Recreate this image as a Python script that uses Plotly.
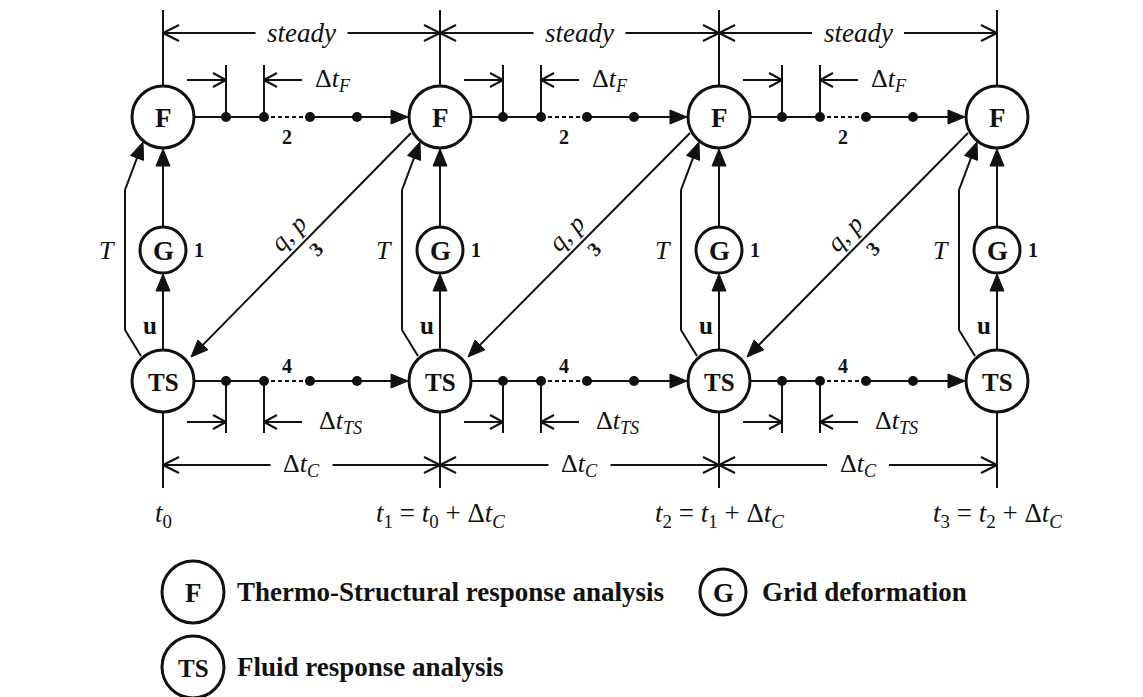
import math
import plotly.graph_objects as go

# ---------------- content (text of the diagram) ----------------
node_labels = {"F": "<b>F</b>", "G": "<b>G</b>", "TS": "<b>TS</b>"}
interval_label = "<i>steady</i>"
dt_F_label = "Δ<i>t</i><sub><i>F</i></sub>"
dt_TS_label = "Δ<i>t</i><sub><i>TS</i></sub>"
dt_C_label = "Δ<i>t</i><sub><i>C</i></sub>"
time_labels = [
    "<i>t</i><sub>0</sub>",
    "<i>t</i><sub>1</sub> = <i>t</i><sub>0</sub> + Δ<i>t</i><sub><i>C</i></sub>",
    "<i>t</i><sub>2</sub> = <i>t</i><sub>1</sub> + Δ<i>t</i><sub><i>C</i></sub>",
    "<i>t</i><sub>3</sub> = <i>t</i><sub>2</sub> + Δ<i>t</i><sub><i>C</i></sub>",
]
temp_label = "<i>T</i>"
disp_label = "<b>u</b>"
load_label = "<i>q</i>, <i>p</i>"
step_numbers = ["1", "2", "3", "4"]
legend_symbols = ["F", "G", "TS"]
legend_texts = ["Thermo-Structural response analysis", "Grid deformation",
                "Fluid response analysis"]

# ---------------- layout geometry (pixels) ----------------
W, H = 1143, 697
OFF = 8  # page body margin
COLS = [163, 440, 719, 997]
Y_F, Y_G, Y_TS = 117, 250, 381
R_BIG, R_G = 31, 23
Y_TOP, Y_STEADY = 10, 33
Y_DTF, Y_DTF_TICK = 80, 65
Y_DTTS, Y_DTTS_TICK = 422, 433
Y_DTC, Y_BOT, Y_TLAB = 465, 488, 515
DOTS = [63, 101, 147, 194]
FONT = "Liberation Serif, Times New Roman, serif"
BLACK = "#111111"

shapes = []
annotations = []


def line(x0, y0, x1, y1, w=2, dash=None):
    d = dict(type="line", x0=x0, y0=y0, x1=x1, y1=y1, xref="x", yref="y",
             line=dict(color=BLACK, width=w), layer="above")
    if dash:
        d["line"]["dash"] = dash
    shapes.append(d)


def filled_head(tx, ty, fx, fy, L=17, hw=7):
    dx, dy = tx - fx, ty - fy
    n = math.hypot(dx, dy)
    ux, uy = dx / n, dy / n
    bx, by = tx - ux * L, ty - uy * L
    px, py = -uy, ux
    path = (f"M {tx},{ty} L {bx + px * hw},{by + py * hw} "
            f"L {bx - px * hw},{by - py * hw} Z")
    shapes.append(dict(type="path", path=path, xref="x", yref="y",
                       fillcolor=BLACK, line=dict(color=BLACK, width=1),
                       layer="above"))
    return bx, by


def arrow(fx, fy, tx, ty, w=2):
    bx, by = filled_head(tx, ty, fx, fy)
    line(fx, fy, bx + (tx - fx) * 0.02, by + (ty - fy) * 0.02, w)


def open_head(tx, ty, fx, fy, L=16, hw=8, w=2):
    dx, dy = tx - fx, ty - fy
    n = math.hypot(dx, dy)
    ux, uy = dx / n, dy / n
    bx, by = tx - ux * L, ty - uy * L
    px, py = -uy, ux
    line(tx, ty, bx + px * hw, by + py * hw, w)
    line(tx, ty, bx - px * hw, by - py * hw, w)


def text(x, y, s, size=22, xanchor="center", angle=0):
    annotations.append(dict(x=x, y=y, xref="x", yref="y", text=s,
                            showarrow=False, xanchor=xanchor, yanchor="middle",
                            textangle=angle,
                            font=dict(family=FONT, size=size, color=BLACK)))


def circle(cx, cy, r, w=3):
    shapes.append(dict(type="circle", x0=cx - r, x1=cx + r, y0=cy - r, y1=cy + r,
                       xref="x", yref="y", fillcolor="white",
                       line=dict(color=BLACK, width=w), layer="above"))


def dot(cx, cy, r=5):
    shapes.append(dict(type="circle", x0=cx - r, x1=cx + r, y0=cy - r, y1=cy + r,
                       xref="x", yref="y", fillcolor=BLACK,
                       line=dict(color=BLACK, width=0), layer="above"))


def dimension(a, b, y, gap, label, size):
    mid = (a + b) / 2
    line(a, y, mid - gap, y, 2)
    line(mid + gap, y, b, y, 2)
    open_head(a, y, a + 20, y)
    open_head(b, y, b - 20, y)
    text(mid, y, label, size)


# column verticals
for c in COLS:
    line(c, Y_TOP, c, Y_F - R_BIG, 2)
    line(c, Y_TS + R_BIG, c, Y_BOT, 2)

# intervals between columns
for i in range(len(COLS) - 1):
    a, b = COLS[i], COLS[i + 1]
    dimension(a, b, Y_STEADY, 46, interval_label, 27)
    dimension(a, b, Y_DTC, 31, dt_C_label, 26)

    # sub-cycling rows (F on top, TS at bottom)
    for yrow, ytick, ydim, lab, num, numdy, lab_dx in (
            (Y_F, Y_DTF_TICK, Y_DTF, dt_F_label, step_numbers[1], 20, 150),
            (Y_TS, Y_DTTS_TICK, Y_DTTS, dt_TS_label, step_numbers[3], -15, 154)):
        line(a + R_BIG, yrow, a + DOTS[1], yrow, 2)
        line(a + DOTS[1], yrow, a + DOTS[2], yrow, 2, dash="4px,3px")
        arrow(a + DOTS[2], yrow, b - R_BIG - 1, yrow)
        for d in DOTS:
            dot(a + d, yrow)
        line(a + DOTS[0], ytick, a + DOTS[0], yrow, 2)
        line(a + DOTS[1], ytick, a + DOTS[1], yrow, 2)
        line(a + 24, ydim, a + DOTS[0], ydim, 2)
        open_head(a + DOTS[0], ydim, a + 24, ydim, L=13, hw=7)
        line(a + 139, ydim, a + DOTS[1], ydim, 2)
        open_head(a + DOTS[1], ydim, a + 139, ydim, L=13, hw=7)
        text(a + lab_dx, ydim, lab, 26, xanchor="left")
        text(a + 124, yrow + numdy, "<b>" + num + "</b>", 20)

    # load transfer F(next) -> TS(current)
    x0, y0 = b - 29, Y_F + 16
    x1, y1 = a + 28, Y_TS - 24
    arrow(x0, y0, x1, y1)
    mx, my = (x0 + x1) / 2, (y0 + y1) / 2
    ang = math.degrees(math.atan2(y0 - y1, x0 - x1))
    text(mx - 13, my - 12, load_label, 26, angle=ang)
    text(mx + 15, my + 4, "<b>" + step_numbers[2] + "</b>", 20, angle=ang)

# per-column coupling: TS -> G -> F and T path
for c in COLS:
    arrow(c, Y_TS - R_BIG, c, Y_G + R_G + 1)
    arrow(c, Y_G - R_G, c, Y_F + R_BIG + 1)
    bx0, by0 = c - 22, Y_TS - 25
    kx, ky_low, ky_high = c - 38, Y_TS - 51, 190
    tx, ty = c - 20, Y_F + 25
    line(bx0, by0, kx, ky_low, 2)
    line(kx, ky_low, kx, ky_high, 2)
    hx, hy = filled_head(tx, ty, kx, ky_high)
    line(kx, ky_high, hx, hy, 2)
    text(c - 56, Y_G, temp_label, 26)
    text(c - 13, Y_TS - 56, disp_label, 25)
    text(c + 36, Y_G, "<b>" + step_numbers[0] + "</b>", 20)

# nodes
for c in COLS:
    circle(c, Y_F, R_BIG)
    text(c, Y_F + 1, node_labels["F"], 27)
    circle(c, Y_G, R_G)
    text(c, Y_G + 1, node_labels["G"], 27)
    circle(c, Y_TS, R_BIG)
    text(c, Y_TS + 1, node_labels["TS"], 25)

# time labels
for c, t in zip(COLS, time_labels):
    text(c, Y_TLAB, t, 27)

# legend
legend_pos = [(193, 592, R_BIG), (723, 592, R_G), (193, 667, R_BIG)]
legend_text_x = [235, 760, 235]
for sym, desc, (lx, ly, lr), tx_ in zip(legend_symbols, legend_texts, legend_pos, legend_text_x):
    circle(lx, ly, lr)
    text(lx, ly + 1, node_labels[sym], 27 if sym != "TS" else 25)
    text(tx_, ly, "<b>" + desc + "</b>", 27, xanchor="left")

fig = go.Figure()
fig.update_layout(
    width=W - OFF, height=H - OFF, margin=dict(l=0, r=0, t=0, b=0),
    paper_bgcolor="white", plot_bgcolor="white",
    xaxis=dict(range=[OFF, W], visible=False, fixedrange=True),
    yaxis=dict(range=[H, OFF], visible=False, fixedrange=True),
    shapes=shapes, annotations=annotations, showlegend=False,
)
fig.write_html("out.html")
